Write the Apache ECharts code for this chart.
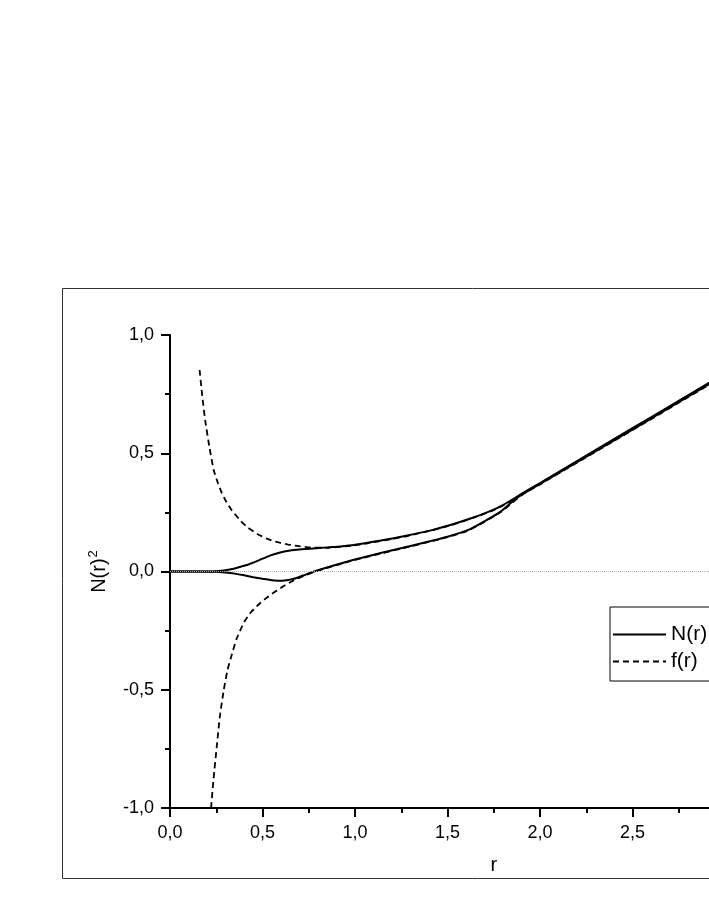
<!DOCTYPE html>
<html>
<head>
<meta charset="utf-8">
<title>N(r)^2</title>
<script src="https://cdn.jsdelivr.net/npm/echarts@6/dist/echarts.min.js"></script>
<style>
	html, body {
		margin: 0;
		padding: 0;
		background: #ffffff;
		overflow: hidden;
	}
	#chart {
		width: 900px;
		height: 917px;
	}
</style>
</head>
<body>
<div id="chart"></div>
<script>
	// N(r)^2, upper branch [r, value]
	var nUpper = [
		[0, 0], [0.2, 0], [0.25, 0.001], [0.3, 0.005], [0.35, 0.013], [0.4, 0.024],
		[0.434, 0.033], [0.48, 0.047], [0.54, 0.067], [0.6, 0.081], [0.65, 0.089],
		[0.7, 0.093], [0.76, 0.096], [0.85, 0.102], [0.92, 0.106], [1.0, 0.113],
		[1.14, 0.131], [1.27, 0.15], [1.41, 0.174], [1.52, 0.198], [1.62, 0.223],
		[1.72, 0.252], [1.8, 0.281], [1.9, 0.328], [2.0, 0.374], [2.2, 0.467],
		[2.4, 0.56], [2.6, 0.652], [2.8, 0.745], [3.0, 0.837]
	];
	// N(r)^2, lower branch
	var nLower = [
		[0, 0], [0.25, -0.001], [0.3, -0.004], [0.35, -0.009], [0.4, -0.016],
		[0.45, -0.024], [0.5, -0.031], [0.55, -0.037], [0.58, -0.039], [0.62, -0.038],
		[0.67, -0.031], [0.72, -0.017], [0.79, 0.003], [0.87, 0.022], [0.975, 0.046],
		[1.0, 0.051], [1.15, 0.08], [1.3, 0.108], [1.41, 0.129], [1.5, 0.147],
		[1.62, 0.178], [1.72, 0.221], [1.785, 0.252], [1.85, 0.295], [1.9, 0.325],
		[2.0, 0.372], [2.2, 0.465], [2.4, 0.558], [2.6, 0.65], [2.8, 0.743],
		[3.0, 0.835]
	];
	// f(r), upper branch
	var fUpper = [
		[0.16, 0.852], [0.173, 0.753], [0.19, 0.64], [0.213, 0.527], [0.236, 0.43],
		[0.26, 0.372], [0.28, 0.332], [0.3, 0.301], [0.33, 0.263], [0.38, 0.216],
		[0.42, 0.186], [0.47, 0.16], [0.52, 0.14], [0.58, 0.124], [0.64, 0.114],
		[0.7, 0.107], [0.76, 0.102], [0.85, 0.1], [1.0, 0.111], [1.27, 0.148],
		[1.52, 0.196], [1.72, 0.25], [1.8, 0.279], [2.0, 0.37], [2.2, 0.462],
		[2.4, 0.554], [2.6, 0.646], [2.8, 0.739], [3.0, 0.831]
	];
	// f(r), lower branch
	var fLower = [
		[0.222, -1.0], [0.235, -0.88], [0.254, -0.73], [0.27, -0.61], [0.29, -0.504],
		[0.31, -0.42], [0.335, -0.349], [0.36, -0.285], [0.4, -0.215], [0.44, -0.17],
		[0.488, -0.133], [0.53, -0.107], [0.578, -0.08], [0.62, -0.059], [0.668, -0.038],
		[0.72, -0.02], [0.79, 0.001], [0.87, 0.02], [1.0, 0.049], [1.15, 0.078],
		[1.3, 0.106], [1.5, 0.145], [1.62, 0.176], [1.785, 0.25], [1.9, 0.322],
		[2.0, 0.368], [2.2, 0.46], [2.4, 0.552], [2.6, 0.644], [2.8, 0.737],
		[3.0, 0.829]
	];
	var legendNames = ['N(r)', 'f(r)'];

	var fontFam = '"Liberation Sans", Arial, sans-serif';
	var fmt = function (v) {
		return v.toFixed(1).replace('.', ',');
	};

	var chart = echarts.init(document.getElementById('chart'));

	var solid = {
		color: '#000',
		width: 2,
		type: 'solid'
	};
	var dashed = {
		color: '#000',
		width: 1.8,
		type: [6, 4]
	};

	function curve(name, data, style, z) {
		return {
			name: name,
			type: 'line',
			data: data,
			symbol: 'none',
			smooth: 0.2,
			lineStyle: style,
			itemStyle: { color: '#000' },
			z: z
		};
	}

	var nUp = curve('N(r)', nUpper, solid, 3);
	//零线
	nUp.markLine = {
		silent: true,
		symbol: ['none', 'none'],
		label: { show: false },
		lineStyle: { color: '#b0b0b0', type: 'dotted', width: 1 },
		data: [{ yAxis: 0 }]
	};

	var option = {
		animation: false,
		backgroundColor: '#ffffff',
		textStyle: {
			fontFamily: fontFam
		},
		graphic: [{
			type: 'rect',
			shape: { x: 62.5, y: 288.5, width: 820, height: 590 },
			style: { fill: 'none', stroke: '#333', lineWidth: 1 },
			z: 0
		}],
		grid: {
			left: 170,
			top: 335,
			width: 647.5,
			height: 473
		},
		legend: {
			data: legendNames,
			orient: 'vertical',
			left: 610,
			top: 607,
			padding: [17, 8, 9, 2],
			itemGap: 6,
			itemWidth: 53,
			itemHeight: 21,
			itemStyle: { opacity: 0 },
			borderColor: '#000',
			borderWidth: 1,
			backgroundColor: '#fff',
			textStyle: {
				fontSize: 21,
				color: '#000',
				fontFamily: fontFam
			}
		},
		xAxis: {
			type: 'value',
			min: 0,
			max: 3.5,
			interval: 0.5,
			name: 'r',
			nameLocation: 'middle',
			nameGap: 47,
			nameTextStyle: { fontSize: 20, color: '#000', fontFamily: fontFam },
			axisLine: { onZero: false, lineStyle: { color: '#000', width: 2 } },
			axisTick: { show: true, length: 9, lineStyle: { color: '#000', width: 2 } },
			minorTick: { show: true, splitNumber: 2, length: 5, lineStyle: { color: '#000', width: 2 } },
			axisLabel: { formatter: fmt, fontSize: 18, color: '#000', margin: 16 },
			splitLine: { show: false }
		},
		yAxis: {
			type: 'value',
			min: -1,
			max: 1,
			interval: 0.5,
			name: '{a|N(r)}{s|2}',
			nameLocation: 'middle',
			nameGap: 58,
			nameTextStyle: {
				color: '#000',
				rich: {
					a: { fontSize: 20, fontFamily: fontFam, color: '#000' },
					s: { fontSize: 13, fontFamily: fontFam, color: '#000', padding: [0, 0, 12, 1] }
				}
			},
			axisLine: { onZero: false, lineStyle: { color: '#000', width: 2 } },
			axisTick: { show: true, length: 9, lineStyle: { color: '#000', width: 2 } },
			minorTick: { show: true, splitNumber: 2, length: 5, lineStyle: { color: '#000', width: 2 } },
			axisLabel: { formatter: fmt, fontSize: 18, color: '#000', margin: 16 },
			splitLine: { show: false }
		},
		series: [
			curve('f(r)', fUpper, dashed, 2),
			curve('f(r)', fLower, dashed, 2),
			nUp,
			curve('N(r)', nLower, solid, 3)
		]
	};

	chart.setOption(option);
</script>
</body>
</html>
